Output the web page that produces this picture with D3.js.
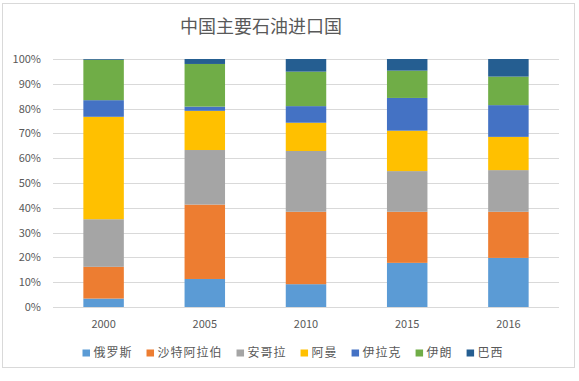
<!DOCTYPE html>
<html>
<head>
<meta charset="utf-8">
<script src="https://cdn.jsdelivr.net/npm/d3@7"></script>
<style>
  body { margin: 0; background: #fff; }
  text { font-family: "Noto Sans CJK SC", "Liberation Sans", sans-serif; fill: #595959; }
</style>
</head>
<body>
<div id="chart"></div>
<script>
// data
var years = ["2000", "2005", "2010", "2015", "2016"];
var countries = ["俄罗斯", "沙特阿拉伯", "安哥拉", "阿曼", "伊拉克", "伊朗", "巴西"];
var russia  = [3.4, 11.3, 9.2, 17.8, 19.8];
var saudi   = [12.8, 30.0, 29.2, 20.6, 18.6];
var angola  = [19.2, 22.0, 24.5, 16.4, 16.8];
var oman    = [41.3, 15.8, 11.4, 16.3, 13.4];
var iraq    = [6.7, 1.7, 6.7, 13.2, 12.8];
var iran    = [16.3, 17.2, 13.9, 11.0, 11.5];
var brazil  = [0.3, 2.0, 5.1, 4.7, 7.1];
var yTicks = [0, 0.1, 0.2, 0.3, 0.4, 0.5, 0.6, 0.7, 0.8, 0.9, 1];

var colors = ["#5b9bd5", "#ed7d31", "#a5a5a5", "#ffc000", "#4472c4", "#70ad47", "#255e91"];
var series = [russia, saudi, angola, oman, iraq, iran, brazil];

var W = 579, H = 381;
var margin = { top: 59, right: 20, bottom: 74, left: 53 };
var width = 559 - margin.left,
  height = 307 - margin.top;

var svg = d3.select("#chart").append("svg")
  .attr("width", W)
  .attr("height", H);

// outer border
svg.append("rect")
  .attr("x", 2.5).attr("y", 3.5)
  .attr("width", 572).attr("height", 364)
  .attr("fill", "none")
  .attr("stroke", "#d9d9d9");

svg.append("text")
  .attr("x", 261).attr("y", 33)
  .attr("text-anchor", "middle")
  .style("font-size", "18px")
  .text("中国主要石油进口国");

var g = svg.append("g")
  .attr("transform", "translate(" + margin.left + "," + margin.top + ")");

// build table, normalise to 100%
var table = years.map(function (yr, i) {
  var row = { year: yr };
  var total = 0;
  countries.forEach(function (c, k) { total += series[k][i]; });
  countries.forEach(function (c, k) { row[c] = series[k][i] / total; });
  return row;
});

var stack = d3.stack().keys(countries);
var layers = stack(table);

var x = d3.scaleBand().domain(years).range([0, width]).paddingInner(0.6).paddingOuter(0.3);
var y = d3.scaleLinear().domain([0, 1]).range([height, 0]);

// gridlines
g.selectAll(".grid")
  .data(yTicks)
  .enter().append("line")
  .attr("x1", 0).attr("x2", width)
  .attr("y1", function (d) { return Math.round(y(d)) + 0.5; })
  .attr("y2", function (d) { return Math.round(y(d)) + 0.5; })
  .attr("stroke", "#d9d9d9");

g.selectAll(".layer")
  .data(layers)
  .enter().append("g")
  .attr("fill", function (d, i) { return colors[i]; })
  .selectAll("rect")
  .data(function (d) { return d; })
  .enter().append("rect")
  .attr("x", function (d) { return x(d.data.year); })
  .attr("y", function (d) { return y(d[1]); })
  .attr("width", x.bandwidth())
  .attr("height", function (d) { return y(d[0]) - y(d[1]); });

// y axis
var yAxis = g.append("g")
  .call(d3.axisLeft(y).tickValues(yTicks).tickFormat(d3.format(".0%")).tickSize(0).tickPadding(12));
yAxis.select(".domain").remove();
yAxis.selectAll("text").style("font-size", "11px").attr("fill", "#595959");

// x axis
var xAxis = g.append("g")
  .attr("transform", "translate(0," + height + ")")
  .call(d3.axisBottom(x).tickSize(0).tickPadding(13));
xAxis.select(".domain").remove();
xAxis.selectAll("text").style("font-size", "11px").attr("fill", "#595959");

// legend
var legend = svg.append("g").attr("transform", "translate(82.5,353)");
var lx = 0;
countries.forEach(function (c, i) {
  var item = legend.append("g").attr("transform", "translate(" + lx + ",0)");
  item.append("rect")
    .attr("x", 0).attr("y", -3.5)
    .attr("width", 7.5).attr("height", 7)
    .attr("fill", colors[i]);
  var t = item.append("text")
    .attr("x", 11).attr("dy", "0.36em")
    .style("font-size", "12px")
    .style("letter-spacing", "1px")
    .text(c);
  lx += 11 + t.node().getComputedTextLength() + 14;
});
</script>
</body>
</html>
